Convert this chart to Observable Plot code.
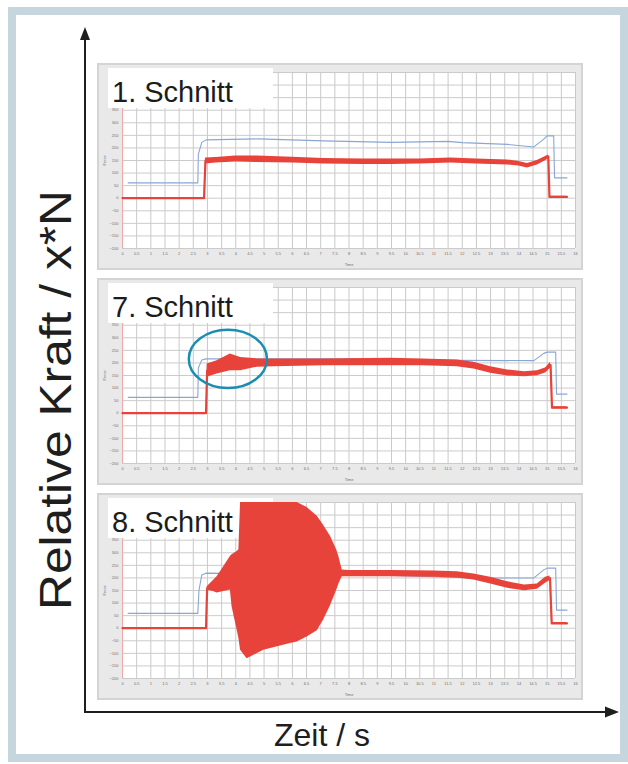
<!DOCTYPE html>
<html>
<head>
<meta charset="utf-8">
<script src="https://cdn.jsdelivr.net/npm/d3@7"></script>
<script src="https://cdn.jsdelivr.net/npm/@observablehq/plot@0.6"></script>
<style>
  html, body { margin:0; padding:0; background:#fff; width:628px; height:764px; overflow:hidden;
    font-family:"Liberation Sans", Arial, sans-serif; }
  #border { position:absolute; left:8px; top:7px; width:620px; height:755px; box-sizing:border-box;
    border:8px solid #c6d6df; background:#fff; }
  .panel { position:absolute; left:97px; width:486px; height:207px; background:#e9e9e9;
    box-shadow: inset 0 0 0 2px #d4d4d4; }
  .panel svg { position:absolute; left:0; top:0; }
  #ov { position:absolute; left:0; top:0; pointer-events:none; }
</style>
</head>
<body>
<div id="border"></div>
<div id="panels"></div>
<svg id="ov" width="628" height="764">
  <line x1="85" y1="713" x2="85" y2="38" stroke="#1e1e1e" stroke-width="2"/>
  <polygon points="85,27 80,40 90,40" fill="#1e1e1e"/>
  <line x1="84" y1="712" x2="606" y2="712" stroke="#1e1e1e" stroke-width="2"/>
  <polygon points="619,712 605,706.5 605,717.5" fill="#1e1e1e"/>
  <text transform="translate(71,400) rotate(-90)" text-anchor="middle" font-size="44" fill="#1e1e1e"
    textLength="420" lengthAdjust="spacingAndGlyphs"
    font-family="Liberation Sans, Arial, sans-serif">Relative Kraft / x*N</text>
  <text x="322" y="746" text-anchor="middle" font-size="32" fill="#1e1e1e"
    font-family="Liberation Sans, Arial, sans-serif">Zeit / s</text>
</svg>
<script>
// ---- tick values ----
const xTicks = [0,0.5,1,1.5,2,2.5,3,3.5,4,4.5,5,5.5,6,6.5,7,7.5,8,8.5,9,9.5,10,10.5,11,11.5,12,12.5,13,13.5,14,14.5,15,15.5,16];
const yTicks = [-200,-150,-100,-50,0,50,100,150,200,250,300,350,400,450,500];
// labels above 350 are hidden under the title box in the original
const yTickLabels = [-200,-150,-100,-50,0,50,100,150,200,250,300,350];

// ---- panel labels ----
const panelLabels = ["1. Schnitt", "7. Schnitt", "8. Schnitt"];

// ---- red force trace (band: t, lo, hi) ----
const red1 = [
  [0,-3,3],[2.88,-3,3],[2.93,136,160],[3.3,140,162],[4.0,144,168],[4.76,142,168],[6.0,140,163],
  [7.1,136,158],[8.5,134,156],[9.5,134,156],[10.5,136,156],[11.6,140,160],[12.5,136,156],
  [13.6,132,152],[14.0,128,146],[14.3,120,138],[14.65,132,150],[14.94,150,166],[15.04,160,172],
  [15.08,2,8],[15.7,2,8]
];
const red7 = [
  [0,-3,3],[2.95,-3,3],[2.99,143,196],[3.34,156,209],[3.81,169,236],[4.17,169,222],[4.76,183,216],
  [5.35,185,216],[7.1,189,216],[9.47,189,219],[10.6,189,216],[11.82,185,212],[12.41,176,203],
  [13.0,159,185],[13.6,148,172],[14.2,145,165],[14.65,149,169],[14.94,160,180],[15.12,180,203],
  [15.17,18,26],[15.7,18,26]
];
const red8 = [
  [0,-3,3],[2.95,-3,3],[2.99,152,165],[3.23,145,192],[3.34,140,205],[3.58,146,245],[3.81,152,285],
  [3.87,85,292],[4.05,-8,305],[4.11,-40,312],[4.17,-88,500],[4.4,-121,500],[4.99,-88,500],
  [5.93,-61,500],[6.17,-55,500],[6.52,-35,480],[6.88,-10,445],[7.1,32,410],[7.35,90,365],
  [7.57,152,310],[7.64,175,285],[7.76,205,232],[8.0,205,230],[9.5,205,230],[11.0,203,228],
  [11.82,200,225],[12.41,192,216],[13.0,176,203],[13.6,159,185],[14.2,149,172],[14.65,155,176],
  [14.94,179,203],[15.1,190,208],[15.16,15,23],[15.7,15,23]
];

// ---- blue reference trace (t, v) ----
const blue1 = [
  [0.2,61],[2.66,61],[2.68,175],[2.8,222],[2.95,232],[4.8,236],[7.1,228],[9.5,222],[11.5,226],
  [12.0,221],[13.6,214],[14.53,204],[14.88,235],[15.0,248],[15.23,248],[15.26,81],[15.7,81]
];
const blue7 = [
  [0.2,63],[2.66,63],[2.68,180],[2.8,212],[2.95,216],[8.0,216],[12.0,210],[14.53,209],
  [14.88,238],[15.0,243],[15.3,243],[15.33,76],[15.7,76]
];
const blue8 = [
  [0.2,59],[2.66,59],[2.7,150],[2.8,212],[2.95,219],[8.0,215],[12.4,200],[14.53,200],
  [14.88,232],[15.0,239],[15.3,239],[15.33,72],[15.7,72]
];

// ---- highlight ellipse in "7. Schnitt" (centre t, v; radii in data units) ----
const ellipse7 = {t: 3.74, v: 214, rt: 1.38, rv: 116};

const RED = "#e8433a";
const BLUE = "#8aa6d4";
const ns = "http://www.w3.org/2000/svg";

const toBand = a => a.map(([t, lo, hi]) => ({t, lo, hi, mid: (lo + hi) / 2}));
const toLine = a => a.map(([t, v]) => ({t, v}));

const panels = [
  {label: panelLabels[0], top: 63,  red: red1, blue: blue1, ellipse: null},
  {label: panelLabels[1], top: 278, red: red7, blue: blue7, ellipse: ellipse7},
  {label: panelLabels[2], top: 493, red: red8, blue: blue8, ellipse: null}
];

const host = document.getElementById("panels");
for (const p of panels) {
  const div = document.createElement("div");
  div.className = "panel";
  div.style.top = p.top + "px";
  const red = toBand(p.red), blue = toLine(p.blue);
  const plot = Plot.plot({
    width: 486, height: 207,
    marginLeft: 25, marginRight: 8, marginTop: 9, marginBottom: 22,
    style: {background: "transparent", fontSize: "4px", color: "#707070",
            fontFamily: "Liberation Sans, Arial, sans-serif", overflow: "visible"},
    x: {domain: [0, 16], ticks: xTicks, tickFormat: d => String(d), tickSize: 0, tickPadding: 4,
        label: "Time", labelAnchor: "center", labelOffset: 17, labelArrow: "none"},
    y: {domain: [-200, 500], ticks: yTickLabels, tickSize: 0, tickPadding: 4,
        label: "Force", labelAnchor: "center", labelOffset: 19, labelArrow: "none"},
    marks: [
      Plot.frame({fill: "white", stroke: "none"}),
      Plot.gridX(xTicks, {stroke: "#c9c9c9", strokeOpacity: 1}),
      Plot.gridY(yTicks, {stroke: "#cbcbcb", strokeOpacity: 1}),
      Plot.ruleX([0], {stroke: "#f2a7a7", strokeWidth: 1}),
      Plot.lineY(blue, {x: "t", y: "v", stroke: BLUE, strokeWidth: 1.1}),
      Plot.areaY(red, {x: "t", y1: "lo", y2: "hi", fill: RED, fillOpacity: 1}),
      Plot.lineY(red, {x: "t", y: "mid", stroke: RED, strokeWidth: 2.2})
    ]
  });
  div.appendChild(plot);
  host.appendChild(div);

  // white label box with panel title, placed above grid but below traces
  const g = document.createElementNS(ns, "g");
  const r = document.createElementNS(ns, "rect");
  r.setAttribute("x", 11); r.setAttribute("y", 5);
  r.setAttribute("width", 165); r.setAttribute("height", 40);
  r.setAttribute("fill", "#ffffff");
  const t = document.createElementNS(ns, "text");
  t.setAttribute("x", 15); t.setAttribute("y", 39);
  t.setAttribute("text-anchor", "start");
  t.setAttribute("font-size", 29); t.setAttribute("fill", "#1c1c1c");
  t.setAttribute("font-family", "Liberation Sans, Arial, sans-serif");
  t.textContent = p.label;
  g.appendChild(r); g.appendChild(t);
  const first = plot.querySelector('[aria-label="line"], [aria-label="area"]');
  if (first) first.parentNode.insertBefore(g, first); else plot.appendChild(g);

  if (p.ellipse) {
    const sx = plot.scale("x"), sy = plot.scale("y");
    const e = document.createElementNS(ns, "ellipse");
    const cx = sx.apply(p.ellipse.t), cy = sy.apply(p.ellipse.v);
    e.setAttribute("cx", cx); e.setAttribute("cy", cy);
    e.setAttribute("rx", Math.abs(sx.apply(p.ellipse.t + p.ellipse.rt) - cx));
    e.setAttribute("ry", Math.abs(sy.apply(p.ellipse.v + p.ellipse.rv) - cy));
    e.setAttribute("fill", "none"); e.setAttribute("stroke", "#1b8db2"); e.setAttribute("stroke-width", 2.5);
    plot.appendChild(e);
  }
}
</script>
</body>
</html>
